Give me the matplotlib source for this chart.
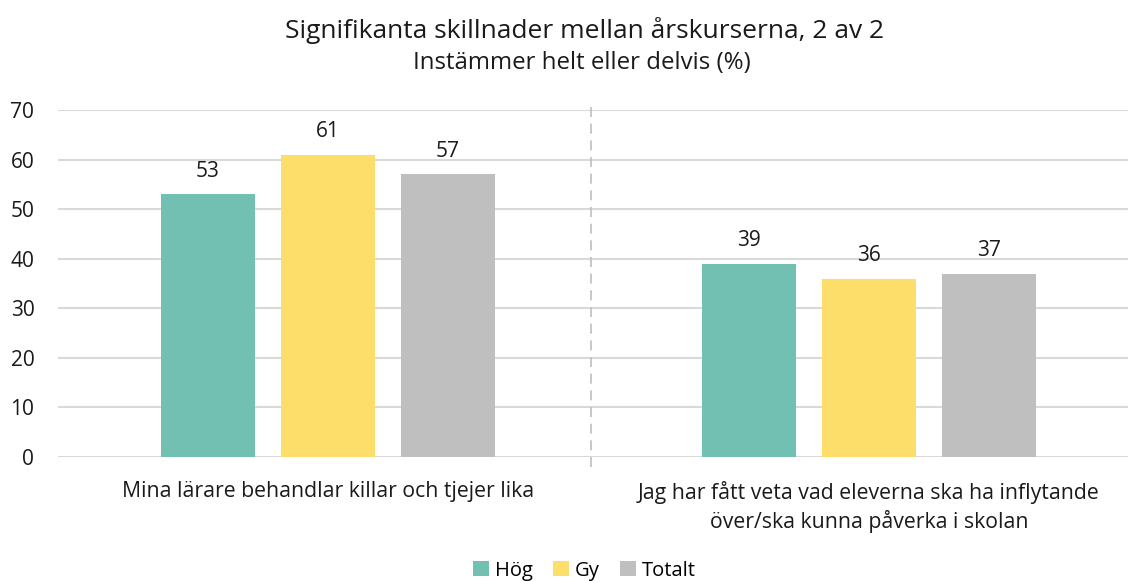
import matplotlib.pyplot as plt
import numpy as np

plt.rcParams['font.family'] = ['Open Sans', 'DejaVu Sans']

kategorier = ["Mina lärare behandlar killar och tjejer lika",
              "Jag har fått veta vad eleverna ska ha inflytande\növer/ska kunna påverka i skolan"]
serier = ["Hög", "Gy", "Totalt"]
hog = [53, 39]
gy = [61, 36]
totalt = [57, 37]
farger = ["#71C0B2", "#FDDE6A", "#BFBFBF"]

fig = plt.figure(figsize=(11.28, 5.81), dpi=100)
ax = fig.add_axes([0.0514, 0.2134, 0.9486, 0.5973])

x = np.arange(len(kategorier))
bredd = 0.174
steg = 0.222
for i, (namn, varden) in enumerate(zip(serier, [hog, gy, totalt])):
    pos = x + (i - 1) * steg
    staplar = ax.bar(pos, varden, bredd, color=farger[i], label=namn, zorder=3)
    for s, v in zip(staplar, varden):
        ax.annotate(str(v), (s.get_x() + s.get_width() / 2, v), xytext=(0, 9),
                    textcoords="offset points", ha="center", va="bottom",
                    fontsize=15, color="#1a1a1a")

ax.set_xlim(-0.499, 1.479)
ax.set_ylim(0, 70)
ax.set_yticks(np.arange(0, 71, 10))
ax.yaxis.grid(True, color="#D9D9D9", linewidth=1.5, zorder=0)
ax.set_axisbelow(True)
ax.tick_params(axis="y", length=0, pad=17, labelsize=15, labelcolor="#1a1a1a")
ax.tick_params(axis="x", length=0, pad=17, labelsize=15.3, labelcolor="#1a1a1a")
ax.set_xticks(x)
ax.set_xticklabels(kategorier, linespacing=1.35, va="top")
for sp in ax.spines.values():
    sp.set_visible(False)

# streckad avdelare mellan grupperna
ax.plot([0.486, 0.486], [-2, 70.6], color="#BFBFBF", linestyle=(0, (6, 4)),
        linewidth=1.2, clip_on=False, zorder=1)

fig.text(0.518, 0.948, "Signifikanta skillnader mellan årskurserna, 2 av 2",
         ha="center", va="center", fontsize=19, color="#1a1a1a")
fig.text(0.516, 0.892, "Instämmer helt eller delvis (%)",
         ha="center", va="center", fontsize=17.3, color="#1a1a1a")

fig.legend(loc="center", bbox_to_anchor=(0.518, 0.018), ncol=3, frameon=False,
           fontsize=14.5, handlelength=0.8, handleheight=0.8, handletextpad=0.3,
           columnspacing=1.0)

fig.savefig("out.png", dpi=100)
